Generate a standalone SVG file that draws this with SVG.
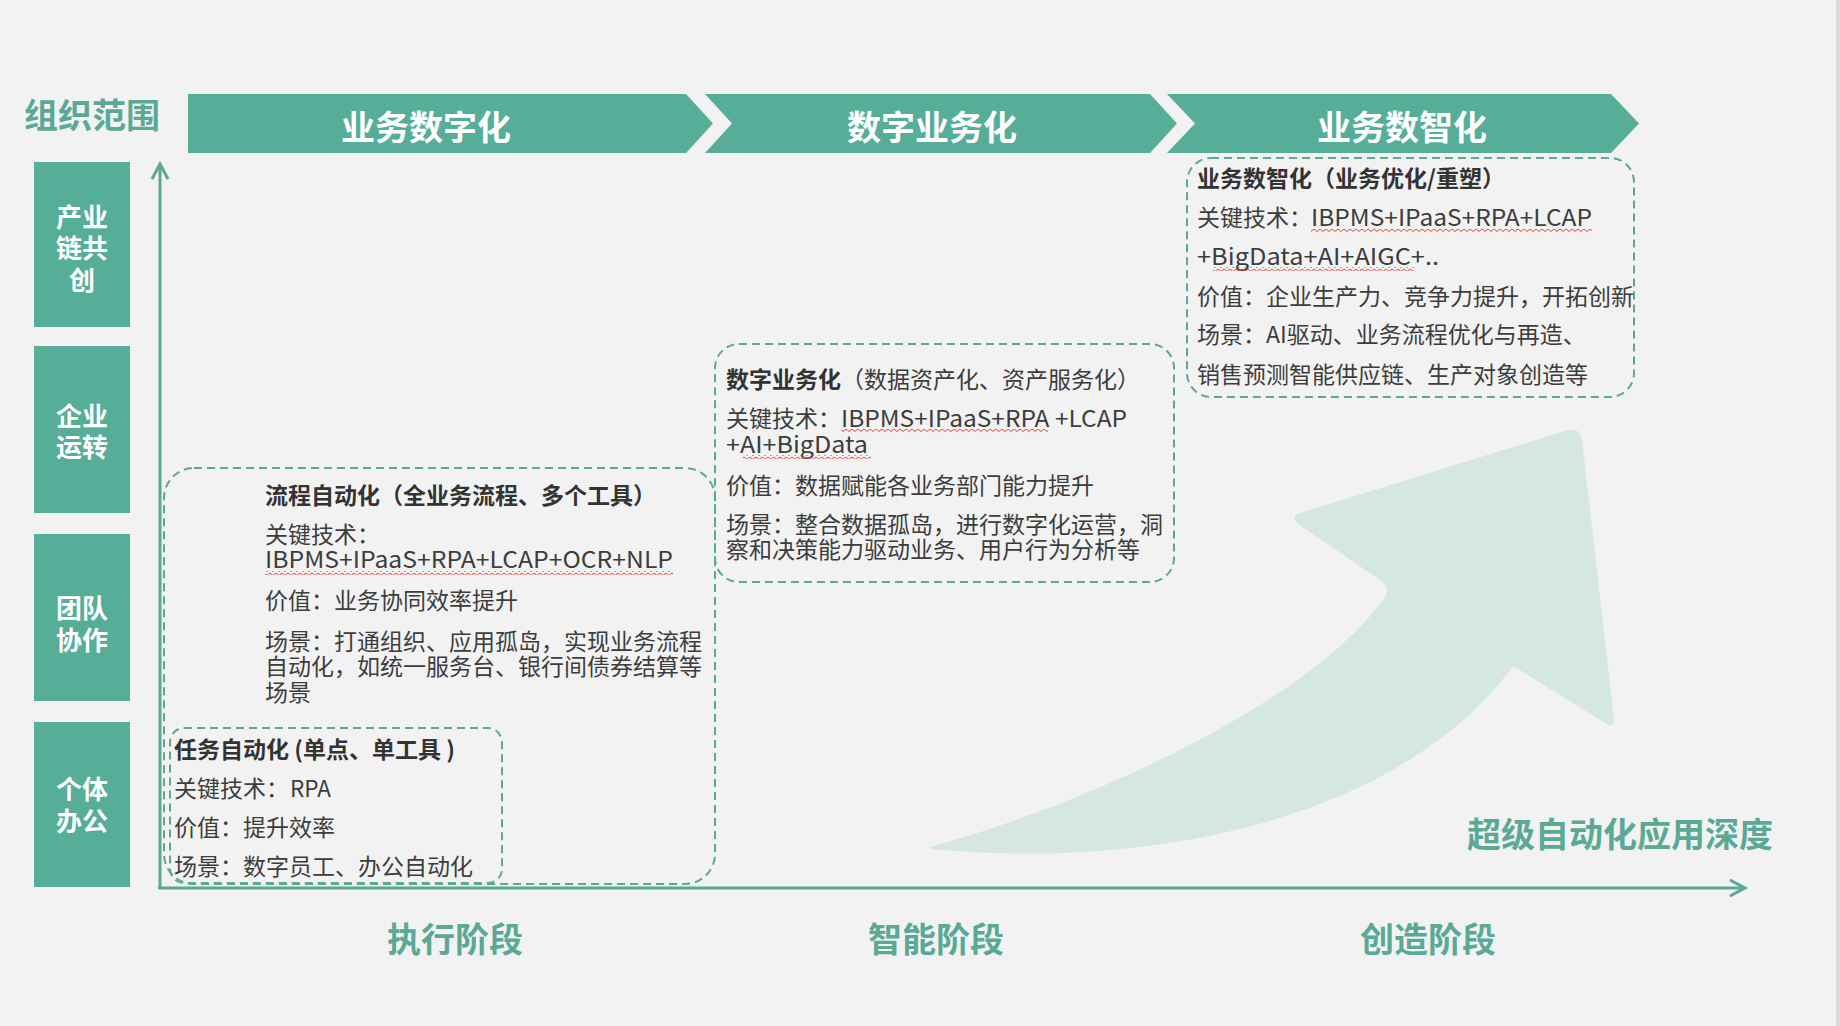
<svg xmlns="http://www.w3.org/2000/svg" width="1840" height="1026" viewBox="0 0 1840 1026">
<defs>
<style>
.band{fill:#56ad98}
.lbox{fill:#56ad98}
.bandt{font-family:"Noto Sans CJK SC",sans-serif;font-weight:700;font-size:34px;fill:#ffffff;text-anchor:middle}
.lt{font-family:"Noto Sans CJK SC",sans-serif;font-weight:700;font-size:26px;fill:#ffffff;text-anchor:middle}
.teal{font-family:"Noto Sans CJK SC",sans-serif;font-weight:700;font-size:34px;fill:#5aa995;text-anchor:middle}
.dash{fill:none;stroke:#5ba895;stroke-width:2;stroke-dasharray:8 5}
.t{font-family:"Noto Sans CJK SC",sans-serif;font-size:23px;fill:#3d3d3d}
.b{font-weight:700;fill:#333333}
.axis{fill:none;stroke:#5ba894;stroke-width:3}
.sq{fill:url(#squig)}
</style>
<pattern id="squig" patternUnits="userSpaceOnUse" width="6" height="4">
<path d="M0,1 L3,3.5 L6,1" fill="none" stroke="#e0483e" stroke-width="1"/>
</pattern>
</defs>
<rect x="0" y="0" width="1840" height="1026" fill="#f2f2f2"/>
<rect x="1836" y="0" width="4" height="1026" fill="#dadada"/>

<g id="big-arrow">
<path d="M930,847 C1100,800 1310,700 1383,600 Q1392,588 1380,580 L1298,524 Q1290,516 1300,513 L1568,430 Q1580,427 1582,440 L1614,718 Q1614,730 1605,723 L1513,666 C1400,820 1150,870 930,849 Z" fill="#d5e7e2"/>
</g>

<g id="connectors">
<path class="axis" d="M160,888 L160,165"/>
<path class="axis" d="M152,179 L160,164 L168,179"/>
<path class="axis" d="M158,888 L1744,888"/>
<path class="axis" d="M1730,880 L1745,888 L1730,896"/>
</g>

<g id="title-scope">
<text class="teal" x="92" y="128">组织范围</text>
</g>

<g id="band-1">
<path class="band" d="M188,94 L686,94 L713,123.5 L686,153 L188,153 Z"/>
<text class="bandt" x="426" y="140">业务数字化</text>
</g>
<g id="band-2">
<path class="band" d="M705,94 L1150,94 L1177,123.5 L1150,153 L705,153 L732,123.5 Z"/>
<text class="bandt" x="932" y="140">数字业务化</text>
</g>
<g id="band-3">
<path class="band" d="M1167,94 L1611,94 L1639,123.5 L1611,153 L1167,153 L1195,123.5 Z"/>
<text class="bandt" x="1402" y="140">业务数智化</text>
</g>

<g id="level-1">
<rect class="lbox" x="34" y="162" width="96" height="165"/>
<text class="lt" x="82" y="226.5">产业</text>
<text class="lt" x="82" y="257.5">链共</text>
<text class="lt" x="82" y="289.5">创</text>
</g>
<g id="level-2">
<rect class="lbox" x="34" y="346" width="96" height="167"/>
<text class="lt" x="82" y="425.5">企业</text>
<text class="lt" x="82" y="456.5">运转</text>
</g>
<g id="level-3">
<rect class="lbox" x="34" y="534" width="96" height="167"/>
<text class="lt" x="82" y="617.5">团队</text>
<text class="lt" x="82" y="649.5">协作</text>
</g>
<g id="level-4">
<rect class="lbox" x="34" y="722" width="96" height="165"/>
<text class="lt" x="82" y="798.5">个体</text>
<text class="lt" x="82" y="830.5">办公</text>
</g>

<g id="box-process">
<rect class="dash" x="164" y="468" width="551" height="416" rx="30"/>
<text class="t b" x="265" y="504">流程自动化（全业务流程、多个工具）</text>
<text class="t" x="265" y="543">关键技术：</text>
<text class="t" x="265" y="568" textLength="408" lengthAdjust="spacingAndGlyphs">IBPMS+IPaaS+RPA+LCAP+OCR+NLP</text>
<rect class="sq" x="265" y="571" width="408" height="4"/>
<text class="t" x="265" y="609">价值：业务协同效率提升</text>
<text class="t" x="265" y="650">场景：打通组织、应用孤岛，实现业务流程</text>
<text class="t" x="265" y="675">自动化，如统一服务台、银行间债券结算等</text>
<text class="t" x="265" y="701">场景</text>
</g>

<g id="box-task">
<rect class="dash" x="170" y="728" width="332" height="155" rx="14"/>
<text class="t b" x="174" y="758">任务自动化 (单点、单工具 )</text>
<text class="t" x="174" y="797">关键技术：</text>
<text class="t" x="290" y="797" textLength="41" lengthAdjust="spacingAndGlyphs">RPA</text>
<text class="t" x="174" y="836">价值：提升效率</text>
<text class="t" x="174" y="875">场景：数字员工、办公自动化</text>
</g>

<g id="box-digital">
<rect class="dash" x="715" y="344" width="459" height="238" rx="24"/>
<text class="t" x="726" y="388"><tspan class="b">数字业务化</tspan>（数据资产化、资产服务化）</text>
<text class="t" x="726" y="427">关键技术：</text>
<text class="t" x="841" y="427" textLength="286" lengthAdjust="spacingAndGlyphs">IBPMS+IPaaS+RPA +LCAP</text>
<rect class="sq" x="841" y="429" width="207" height="4"/>
<text class="t" x="726" y="453" textLength="142" lengthAdjust="spacingAndGlyphs">+AI+BigData</text>
<rect class="sq" x="743" y="455" width="128" height="4"/>
<text class="t" x="726" y="494">价值：数据赋能各业务部门能力提升</text>
<text class="t" x="726" y="533">场景：整合数据孤岛，进行数字化运营，洞</text>
<text class="t" x="726" y="558">察和决策能力驱动业务、用户行为分析等</text>
</g>

<g id="box-intelligent">
<rect class="dash" x="1187" y="158" width="447" height="239" rx="24"/>
<text class="t b" x="1197" y="187">业务数智化（业务优化/重塑）</text>
<text class="t" x="1197" y="226">关键技术：</text>
<text class="t" x="1311" y="226" textLength="281" lengthAdjust="spacingAndGlyphs">IBPMS+IPaaS+RPA+LCAP</text>
<rect class="sq" x="1311" y="229" width="281" height="4"/>
<text class="t" x="1197" y="265" textLength="242" lengthAdjust="spacingAndGlyphs">+BigData+AI+AIGC+..</text>
<rect class="sq" x="1213" y="267" width="201" height="4"/>
<text class="t" x="1197" y="305">价值：企业生产力、竞争力提升，开拓创新</text>
<text class="t" x="1197" y="343">场景：AI驱动、业务流程优化与再造、</text>
<text class="t" x="1197" y="383">销售预测智能供应链、生产对象创造等</text>
</g>

<g id="depth-label">
<text class="teal" x="1620" y="847">超级自动化应用深度</text>
</g>
<g id="stage-1"><text class="teal" x="455" y="952">执行阶段</text></g>
<g id="stage-2"><text class="teal" x="936" y="952">智能阶段</text></g>
<g id="stage-3"><text class="teal" x="1428" y="952">创造阶段</text></g>
</svg>
